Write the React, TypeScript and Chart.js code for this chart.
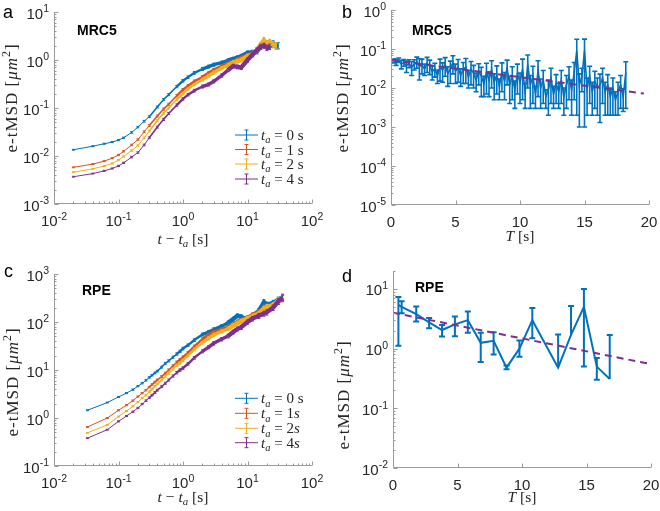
import React, { useEffect, useRef } from "react";
import { Chart, registerables } from "chart.js";
Chart.register(...registerables);

// ---------------- DATA ----------------
// Panel a (MRC5): e-tMSD vs lag time t - t_a, for t_a = 0, 1, 2, 4 s
const aLag = [0.02, 0.04, 0.06, 0.08, 0.1, 0.12, 0.16, 0.2, 0.25, 0.3, 0.4, 0.5, 0.6, 0.8, 1, 1.2, 1.5, 2, 2.5, 3, 4, 5, 6, 7, 8, 10, 12, 14, 16, 18, 20, 22, 25, 28, 30];
const aTa0 = [0.0135, 0.016, 0.018, 0.0195, 0.0215, 0.024, 0.031, 0.04, 0.053, 0.066, 0.105, 0.15, 0.19, 0.28, 0.37, 0.44, 0.54, 0.65, 0.73, 0.8, 0.88, 0.98, 1.05, 1.12, 1.2, 1.4, 1.45, 1.5, 1.9, 2.4, 2.2, 1.9, 2.2, 2.0, 2.0];
const aTa1 = [0.0058, 0.0068, 0.0078, 0.009, 0.0105, 0.0125, 0.017, 0.022, 0.032, 0.043, 0.068, 0.095, 0.12, 0.18, 0.24, 0.29, 0.36, 0.44, 0.53, 0.62, 0.74, 0.84, 0.92, 1.0, 1.1, 1.25, 1.35, 1.6, 2.0, 2.3, 2.2, 2.3, 2.1, 2.0, null];
const aTa2 = [0.0046, 0.0054, 0.0062, 0.007, 0.0082, 0.0098, 0.013, 0.0165, 0.024, 0.033, 0.055, 0.078, 0.1, 0.15, 0.2, 0.25, 0.31, 0.39, 0.47, 0.55, 0.68, 0.78, 0.88, 0.95, 1.0, 1.2, 1.3, 1.6, 2.1, 2.6, 2.2, 2.4, 2.1, 2.0, null];
const aTa4 = [0.0037, 0.0043, 0.0049, 0.0055, 0.0062, 0.0072, 0.0095, 0.0118, 0.017, 0.024, 0.04, 0.058, 0.077, 0.115, 0.155, 0.19, 0.23, 0.28, 0.31, 0.36, 0.48, 0.62, 0.75, 0.72, 0.7, 1.0, 1.3, 1.6, 1.9, 2.0, 1.8, 1.9, null, null, null];
const aRelErr = [0.02, 0.02, 0.025, 0.025, 0.03, 0.03, 0.035, 0.035, 0.04, 0.04, 0.045, 0.05, 0.05, 0.055, 0.06, 0.06, 0.065, 0.07, 0.07, 0.075, 0.08, 0.08, 0.085, 0.09, 0.09, 0.1, 0.1, 0.11, 0.12, 0.12, 0.13, 0.13, 0.14, 0.15, 0.15];
const aLegend = ["0 s", "1 s", "2 s", "4 s"];

// Panel b (MRC5): e-tMSD vs aging time T with error bars and exponential fit
const bT = [
  0.2, 0.4, 0.6, 0.8, 1.0, 1.2, 1.4, 1.6, 1.8, 2.0,
  2.2, 2.4, 2.6, 2.8, 3.0, 3.2, 3.4, 3.6, 3.8, 4.0,
  4.2, 4.4, 4.6, 4.8, 5.0, 5.2, 5.4, 5.6, 5.8, 6.0,
  6.2, 6.4, 6.6, 6.8, 7.0, 7.2, 7.4, 7.6, 7.8, 8.0,
  8.2, 8.4, 8.6, 8.8, 9.0, 9.2, 9.4, 9.6, 9.8, 10.0,
  10.2, 10.4, 10.6, 10.8, 11.0, 11.2, 11.4, 11.6, 11.8, 12.0,
  12.2, 12.4, 12.6, 12.8, 13.0, 13.2, 13.4, 13.6, 13.8, 14.0,
  14.2, 14.4, 14.6, 14.8, 15.0, 15.2, 15.4, 15.6, 15.8, 16.0,
  16.2, 16.4, 16.6, 16.8, 17.0, 17.2, 17.4, 17.6, 17.8, 18.0,
  18.2,
];
const bMSD = [
  0.05, 0.046, 0.052, 0.041, 0.045, 0.037, 0.043, 0.034, 0.041, 0.047,
  0.036, 0.039, 0.031, 0.043, 0.037, 0.026, 0.031, 0.021, 0.035, 0.029,
  0.04, 0.023, 0.031, 0.045, 0.027, 0.034, 0.021, 0.029, 0.035, 0.019,
  0.03, 0.024, 0.016, 0.027, 0.02, 0.013, 0.025, 0.016, 0.03, 0.014,
  0.022, 0.011, 0.026, 0.015, 0.032, 0.012, 0.02, 0.009, 0.024, 0.014,
  0.03, 0.008, 0.04, 0.012, 0.02, 0.007, 0.028, 0.01, 0.016, 0.006,
  0.009, 0.018, 0.007, 0.013, 0.008, 0.016, 0.006, 0.012, 0.02, 0.009,
  0.025, 0.09, 0.012, 0.02, 0.09, 0.01, 0.02, 0.008, 0.015, 0.01,
  0.012, 0.018, 0.008, 0.012, 0.006, 0.01, 0.005, 0.008, 0.012, 0.006,
  0.025,
];
const bErr = [
  0.006, 0.008, 0.007, 0.01, 0.009, 0.012, 0.01, 0.013, 0.012, 0.015,
  0.02, 0.016, 0.01, 0.018, 0.015, 0.01, 0.012, 0.008, 0.02, 0.015,
  0.02, 0.012, 0.018, 0.022, 0.014, 0.02, 0.01, 0.016, 0.022, 0.009,
  0.018, 0.014, 0.008, 0.015, 0.014, 0.007, 0.018, 0.01, 0.02, 0.009,
  0.015, 0.006, 0.018, 0.01, 0.02, 0.008, 0.015, 0.006, 0.017, 0.01,
  0.025, 0.005, 0.03, 0.009, 0.016, 0.004, 0.022, 0.007, 0.012, 0.003,
  0.007, 0.014, 0.004, 0.009, 0.005, 0.012, 0.004, 0.009, 0.015, 0.007,
  0.02, 0.088, 0.011, 0.012, 0.089, 0.008, 0.016, 0.006, 0.012, 0.008,
  0.0107, 0.014, 0.006, 0.01, 0.004, 0.008, 0.003, 0.006, 0.009, 0.0035,
  0.022,
];
const bFitT = [0, 19.6];
const bFitMSD = [0.052, 0.0072];

// Panel c (RPE): e-tMSD vs lag time
const cLag = [0.033, 0.067, 0.1, 0.133, 0.167, 0.2, 0.233, 0.267, 0.3, 0.333, 0.367, 0.4, 0.467, 0.533, 0.6, 0.7, 0.8, 0.9, 1, 1.2, 1.5, 2, 2.5, 3, 4, 5, 6, 7, 8, 10, 12, 15, 18, 20, 25, 30, 35];
const cTa0 = [1.45, 2.1, 2.75, 3.3, 3.9, 4.6, 5.3, 6.1, 7.0, 7.8, 8.7, 9.5, 11.5, 13.8, 15.5, 18.5, 21.5, 24.5, 28, 33, 42, 55, 62, 70, 82, 96, 115, 135, 128, 112, 135, 170, 260, 230, 250, 290, 330];
const cTa1 = [0.65, 1.0, 1.45, 1.85, 2.3, 2.8, 3.3, 3.8, 4.4, 5.0, 5.6, 6.2, 7.3, 8.6, 10, 12.2, 14.5, 16.5, 18.5, 23, 31, 44, 54, 62, 70, 78, 88, 100, 108, 122, 140, 160, 200, 210, 230, 270, 310];
const cTa2 = [0.49, 0.72, 1.07, 1.4, 1.75, 2.15, 2.6, 3.0, 3.5, 4.0, 4.6, 5.1, 6.2, 7.4, 8.6, 10.5, 12.5, 14, 16, 20, 27, 37, 46, 54, 64, 72, 84, 95, 104, 118, 132, 150, 190, 205, 225, 280, 320];
const cTa4 = [0.38, 0.57, 0.85, 1.1, 1.35, 1.62, 1.95, 2.3, 2.65, 3.0, 3.4, 3.8, 4.5, 5.3, 6.2, 7.5, 8.8, 10, 11, 13.5, 18, 24.5, 30, 36, 44, 51, 62, 72, 78, 100, 118, 135, 150, 160, 200, 270, 320];
const cRelErr = [0.02, 0.02, 0.025, 0.025, 0.03, 0.03, 0.03, 0.035, 0.035, 0.035, 0.04, 0.04, 0.045, 0.045, 0.05, 0.05, 0.055, 0.055, 0.06, 0.06, 0.065, 0.07, 0.075, 0.08, 0.08, 0.085, 0.09, 0.09, 0.1, 0.1, 0.11, 0.12, 0.12, 0.13, 0.13, 0.14, 0.15];
const cLegend = ["0 s", "1", "2", "4"];

// Panel d (RPE): e-tMSD vs aging time T with error bars and exponential fit
const dT = [0.42, 0.67, 1.8, 2.8, 3.8, 4.8, 5.8, 6.8, 7.8, 8.8, 9.8, 10.8, 12.8, 13.8, 14.8, 15.8, 16.8];
const dMSD = [5.4, 5.0, 3.8, 2.75, 2.05, 2.55, 3.0, 1.25, 1.35, 0.48, 1.0, 3.0, 0.48, 1.7, 5.0, 0.5, 0.31];
const dLow = [1.12, 3.9, 2.85, 2.2, 1.6, 1.62, 1.85, 0.6, 0.8, 0.45, 0.73, 1.5, 0.48, 1.7, 0.5, 0.3, 0.31];
const dHigh = [7.3, 6.2, 5.1, 3.25, 2.5, 3.45, 4.2, 1.85, 1.88, 0.52, 1.37, 4.8, 1.73, 5.2, 10.0, 0.7, 1.7];
const dFitT = [0, 20];
const dFitMSD = [4.0, 0.55];

const linTicks = [0, 5, 10, 15, 20];

// ---------------- STYLE ----------------
const BLUE = "#0072BD";
const ORANGE = "#D95319";
const YELLOW = "#EDB120";
const PURPLE = "#7E2F8E";
const AXIS = "#9a9a9a";
const TXT = "#262626";
const SANS = '"Liberation Sans", Arial, Helvetica, sans-serif';
const SERIF = '"Liberation Serif", "Times New Roman", serif';

type Seg = { t: string; i?: boolean; sub?: boolean; sup?: boolean };

function segFont(s: Seg, size: number, fam: string) {
  return `${s.i ? "italic " : ""}${s.sub || s.sup ? size * 0.7 : size}px ${fam}`;
}
function richWidth(ctx: CanvasRenderingContext2D, segs: Seg[], size: number, fam: string) {
  let w = 0;
  for (const s of segs) {
    ctx.font = segFont(s, size, fam);
    w += ctx.measureText(s.t).width;
  }
  return w;
}
function drawRich(ctx: CanvasRenderingContext2D, segs: Seg[], x: number, y: number, size: number, fam: string, align: string) {
  const w = richWidth(ctx, segs, size, fam);
  let cx = align === "center" ? x - w / 2 : align === "right" ? x - w : x;
  ctx.textAlign = "left";
  ctx.textBaseline = "alphabetic";
  for (const s of segs) {
    ctx.font = segFont(s, size, fam);
    const dy = s.sub ? size * 0.22 : s.sup ? -size * 0.42 : 0;
    ctx.fillText(s.t, cx, y + dy);
    cx += ctx.measureText(s.t).width;
  }
}

function logTicks(min: number, max: number) {
  const majors: number[] = [];
  const minors: number[] = [];
  const e0 = Math.floor(Math.log10(min));
  const e1 = Math.ceil(Math.log10(max));
  for (let e = e0; e <= e1; e++) {
    for (let m = 1; m <= 9; m++) {
      const v = m * Math.pow(10, e);
      if (v < min * 0.999 || v > max * 1.001) continue;
      if (m === 1) majors.push(v);
      else minors.push(v);
    }
  }
  return { majors, minors };
}

type Series = {
  xs: number[];
  ys: (number | null)[];
  lo?: (number | null)[];
  hi?: (number | null)[];
  color: string;
  width: number;
  band?: boolean;
  dash?: number[];
  cap: number;
  ebWidth: number;
  order: number;
};

type PanelCfg = {
  id: string;
  w: number;
  h: number;
  left: number;
  top: number;
  pad: { left: number; right: number; top: number; bottom: number };
  xLog: boolean;
  xMin: number;
  xMax: number;
  yMin: number;
  yMax: number;
  letter: string;
  letterPos: [number, number];
  cell: string;
  cellPos: [number, number];
  xTitle: Seg[];
  xTitleY: number;
  yTitleX: number;
  yTitleY: number;
  series: Series[];
  legend?: { rows: number[]; labels: Seg[][]; colors: string[] };
};

const bandWidth = (x: number) => (x < 0.3 ? 1 : x < 0.8 ? 1.6 : x < 2 ? 2.4 : x < 5 ? 3.4 : 4.4);

function relSeries(xs: number[], ys: (number | null)[], rel: number[], color: string, order: number): Series {
  return {
    xs,
    ys,
    lo: ys.map((y, i) => (y == null ? null : y * (1 - rel[i]))),
    hi: ys.map((y, i) => (y == null ? null : y * (1 + rel[i]))),
    color,
    width: 1,
    band: true,
    cap: 1.5,
    ebWidth: 1,
    order,
  };
}

const COLORS = [BLUE, ORANGE, YELLOW, PURPLE];
const yTitleSegs: Seg[] = [{ t: "e-tMSD [" }, { t: "μm", i: true }, { t: "2", sup: true }, { t: "]" }];
const lagTitle: Seg[] = [{ t: "t", i: true }, { t: " − " }, { t: "t", i: true }, { t: "a", i: true, sub: true }, { t: " [s]" }];
const TTitle: Seg[] = [{ t: "T", i: true }, { t: " [s]" }];

const panels: PanelCfg[] = [
  {
    id: "a", w: 330, h: 255, left: 0, top: 0,
    pad: { left: 54, right: 18, top: 12, bottom: 51 },
    xLog: true, xMin: 0.01, xMax: 100, yMin: 0.001, yMax: 10,
    letter: "a", letterPos: [3, 18], cell: "MRC5", cellPos: [77, 35],
    xTitle: lagTitle, xTitleY: 244, yTitleX: 17, yTitleY: 98,
    series: [
      relSeries(aLag, aTa0, aRelErr, BLUE, 4),
      relSeries(aLag, aTa1, aRelErr, ORANGE, 3),
      relSeries(aLag, aTa2, aRelErr, YELLOW, 2),
      relSeries(aLag, aTa4, aRelErr, PURPLE, 1),
    ],
    legend: {
      rows: [135, 149.5, 164, 179],
      colors: COLORS,
      labels: aLegend.map((l) => [{ t: "t", i: true }, { t: "a", i: true, sub: true }, { t: " = " + l }]),
    },
  },
  {
    id: "b", w: 330, h: 255, left: 330, top: 0,
    pad: { left: 61, right: 11, top: 10, bottom: 50 },
    xLog: false, xMin: 0, xMax: 20, yMin: 1e-5, yMax: 1,
    letter: "b", letterPos: [12, 18], cell: "MRC5", cellPos: [82, 35],
    xTitle: TTitle, xTitleY: 241, yTitleX: 18, yTitleY: 98,
    series: [
      {
        xs: bT, ys: bMSD,
        lo: bMSD.map((y, i) => y - bErr[i]),
        hi: bMSD.map((y, i) => y + bErr[i]),
        color: BLUE, width: 1.6, cap: 2.5, ebWidth: 1.6, order: 2,
      },
      { xs: bFitT, ys: bFitMSD, color: PURPLE, width: 2, dash: [7, 5], cap: 0, ebWidth: 0, order: 1 },
    ],
  },
  {
    id: "c", w: 330, h: 256, left: 0, top: 255,
    pad: { left: 54, right: 18, top: 19, bottom: 45 },
    xLog: true, xMin: 0.01, xMax: 100, yMin: 0.1, yMax: 1000,
    letter: "c", letterPos: [4, 22], cell: "RPE", cellPos: [82, 40],
    xTitle: lagTitle, xTitleY: 247, yTitleX: 18, yTitleY: 127,
    series: [
      relSeries(cLag, cTa0, cRelErr, BLUE, 4),
      relSeries(cLag, cTa1, cRelErr, ORANGE, 3),
      relSeries(cLag, cTa2, cRelErr, YELLOW, 2),
      relSeries(cLag, cTa4, cRelErr, PURPLE, 1),
    ],
    legend: {
      rows: [143.3, 158.3, 173.3, 187.7],
      colors: COLORS,
      labels: cLegend.map((l, k) =>
        k === 0
          ? [{ t: "t", i: true }, { t: "a", i: true, sub: true }, { t: " = " + l }]
          : [{ t: "t", i: true }, { t: "a", i: true, sub: true }, { t: " = " + l }, { t: "s", i: true }]
      ),
    },
  },
  {
    id: "d", w: 330, h: 256, left: 330, top: 255,
    pad: { left: 63, right: 9, top: 16, bottom: 43 },
    xLog: false, xMin: 0, xMax: 20, yMin: 0.01, yMax: 20,
    letter: "d", letterPos: [12, 27], cell: "RPE", cellPos: [85, 37],
    xTitle: TTitle, xTitleY: 247, yTitleX: 19, yTitleY: 140,
    series: [
      { xs: dT, ys: dMSD, lo: dLow, hi: dHigh, color: BLUE, width: 2, cap: 3, ebWidth: 2, order: 2 },
      { xs: dFitT, ys: dFitMSD, color: PURPLE, width: 2, dash: [7, 5], cap: 0, ebWidth: 0, order: 1 },
    ],
  },
];

function makePlugin(cfg: PanelCfg) {
  return {
    id: "matlab_" + cfg.id,
    afterDatasetDraw(chart: any, args: any) {
      const s = cfg.series[args.index];
      if (!s || !s.lo || !s.hi) return;
      const ctx: CanvasRenderingContext2D = chart.ctx;
      const xs = chart.scales.x;
      const ys = chart.scales.y;
      const ca = chart.chartArea;
      ctx.save();
      ctx.beginPath();
      ctx.rect(ca.left, ca.top - 2, ca.right - ca.left, ca.bottom - ca.top + 2);
      ctx.clip();
      ctx.strokeStyle = s.color;
      ctx.lineWidth = s.ebWidth;
      for (let i = 0; i < s.xs.length; i++) {
        const y = s.ys[i];
        const lo = s.lo[i];
        const hi = s.hi[i];
        if (y == null || lo == null || hi == null) continue;
        const px = xs.getPixelForValue(s.xs[i]);
        const loV = Math.max(lo, cfg.yMin);
        const pLo = ys.getPixelForValue(loV);
        const pHi = ys.getPixelForValue(hi);
        ctx.beginPath();
        ctx.moveTo(px, pLo);
        ctx.lineTo(px, pHi);
        if (lo < y && lo > cfg.yMin) {
          ctx.moveTo(px - s.cap, pLo);
          ctx.lineTo(px + s.cap, pLo);
        }
        if (hi > y) {
          ctx.moveTo(px - s.cap, pHi);
          ctx.lineTo(px + s.cap, pHi);
        }
        ctx.stroke();
      }
      ctx.restore();
    },
    afterDraw(chart: any) {
      const ctx: CanvasRenderingContext2D = chart.ctx;
      const ca = chart.chartArea;
      const xs = chart.scales.x;
      const ys = chart.scales.y;
      ctx.save();
      // axes lines
      ctx.strokeStyle = AXIS;
      ctx.lineWidth = 1;
      const L = Math.round(ca.left) + 0.5;
      const B = Math.round(ca.bottom) - 0.5;
      ctx.beginPath();
      ctx.moveTo(L, ca.top);
      ctx.lineTo(L, B);
      ctx.lineTo(ca.right, B);
      ctx.stroke();
      // y ticks (log)
      const yt = logTicks(cfg.yMin, cfg.yMax);
      ctx.beginPath();
      for (const v of yt.majors) {
        const p = Math.round(ys.getPixelForValue(v)) + 0.5;
        ctx.moveTo(L, p);
        ctx.lineTo(L + 4, p);
      }
      for (const v of yt.minors) {
        const p = Math.round(ys.getPixelForValue(v)) + 0.5;
        ctx.moveTo(L, p);
        ctx.lineTo(L + 2, p);
      }
      // x ticks
      let xMaj: number[] = linTicks;
      let xMin: number[] = [];
      if (cfg.xLog) {
        const xt = logTicks(cfg.xMin, cfg.xMax);
        xMaj = xt.majors;
        xMin = xt.minors;
      }
      for (const v of xMaj) {
        const p = Math.round(xs.getPixelForValue(v)) + 0.5;
        ctx.moveTo(p, B);
        ctx.lineTo(p, B - 4);
      }
      for (const v of xMin) {
        const p = Math.round(xs.getPixelForValue(v)) + 0.5;
        ctx.moveTo(p, B);
        ctx.lineTo(p, B - 2);
      }
      ctx.stroke();

      // tick labels
      ctx.fillStyle = TXT;
      const TS = 15;
      for (const v of yt.majors) {
        const e = Math.round(Math.log10(v));
        const p = ys.getPixelForValue(v);
        drawRich(ctx, [{ t: "10" }, { t: String(e), sup: true }], ca.left - 5, p + 6.5, TS, SANS, "right");
      }
      for (const v of xMaj) {
        const p = xs.getPixelForValue(v);
        if (cfg.xLog) {
          const e = Math.round(Math.log10(v));
          drawRich(ctx, [{ t: "10" }, { t: String(e), sup: true }], p, ca.bottom + 22, TS, SANS, "center");
        } else {
          drawRich(ctx, [{ t: String(v) }], p, ca.bottom + 21.5, TS, SANS, "center");
        }
      }

      // axis titles
      const cx = (ca.left + ca.right) / 2;
      drawRich(ctx, cfg.xTitle, cx, cfg.xTitleY, 15.5, SERIF, "center");
      ctx.save();
      ctx.translate(cfg.yTitleX, cfg.yTitleY);
      ctx.rotate(-Math.PI / 2);
      (ctx as any).letterSpacing = "1px";
      drawRich(ctx, yTitleSegs, 0, 0, 17, SERIF, "center");
      (ctx as any).letterSpacing = "0px";
      ctx.restore();

      // panel letter and cell label
      ctx.fillStyle = "#000";
      ctx.font = `18px ${SANS}`;
      ctx.textAlign = "left";
      ctx.fillText(cfg.letter, cfg.letterPos[0], cfg.letterPos[1]);
      ctx.font = `bold 14px ${SANS}`;
      ctx.fillText(cfg.cell, cfg.cellPos[0], cfg.cellPos[1]);

      // legend
      if (cfg.legend) {
        const lg = cfg.legend;
        lg.rows.forEach((ry, k) => {
          ctx.strokeStyle = lg.colors[k];
          ctx.lineWidth = 1;
          ctx.beginPath();
          ctx.moveTo(235, ry);
          ctx.lineTo(258, ry);
          ctx.moveTo(246.5, ry - 5);
          ctx.lineTo(246.5, ry + 5);
          ctx.moveTo(244.5, ry - 5);
          ctx.lineTo(248.5, ry - 5);
          ctx.moveTo(244.5, ry + 5);
          ctx.lineTo(248.5, ry + 5);
          ctx.stroke();
          ctx.fillStyle = TXT;
          drawRich(ctx, lg.labels[k], 261, ry + 5, 15, SERIF, "left");
        });
      }
      ctx.restore();
    },
  };
}

function buildConfig(cfg: PanelCfg): any {
  const datasets = cfg.series.map((s) => ({
    data: s.xs.map((x, i) => ({ x, y: s.ys[i] })),
    borderColor: s.color,
    backgroundColor: s.color,
    borderWidth: s.width,
    borderDash: s.dash || [],
    pointRadius: 0,
    tension: 0,
    fill: false,
    spanGaps: false,
    order: s.order,
    segment: s.band ? { borderWidth: (c: any) => bandWidth(c.p0.parsed.x) } : undefined,
  }));
  return {
    type: "line",
    data: { datasets },
    options: {
      responsive: false,
      animation: false,
      devicePixelRatio: 1,
      events: [],
      layout: { padding: cfg.pad },
      plugins: { legend: { display: false }, tooltip: { enabled: false } },
      scales: {
        x: { type: cfg.xLog ? "logarithmic" : "linear", min: cfg.xMin, max: cfg.xMax, display: false },
        y: { type: "logarithmic", min: cfg.yMin, max: cfg.yMax, display: false },
      },
    },
    plugins: [makePlugin(cfg)],
  };
}

function Panel({ cfg }: { cfg: PanelCfg }) {
  const ref = useRef<HTMLCanvasElement>(null);
  useEffect(() => {
    const chart = new Chart(ref.current as HTMLCanvasElement, buildConfig(cfg));
    return () => chart.destroy();
  }, [cfg]);
  return (
    <canvas
      ref={ref}
      width={cfg.w}
      height={cfg.h}
      style={{ position: "absolute", left: cfg.left, top: cfg.top, width: cfg.w, height: cfg.h }}
    />
  );
}

export default function App() {
  useEffect(() => {
    document.body.style.margin = "0";
    document.body.style.background = "#fff";
  }, []);
  return (
    <div style={{ position: "relative", width: 660, height: 511, background: "#fff", overflow: "hidden" }}>
      {panels.map((p) => (
        <Panel key={p.id} cfg={p} />
      ))}
    </div>
  );
}
